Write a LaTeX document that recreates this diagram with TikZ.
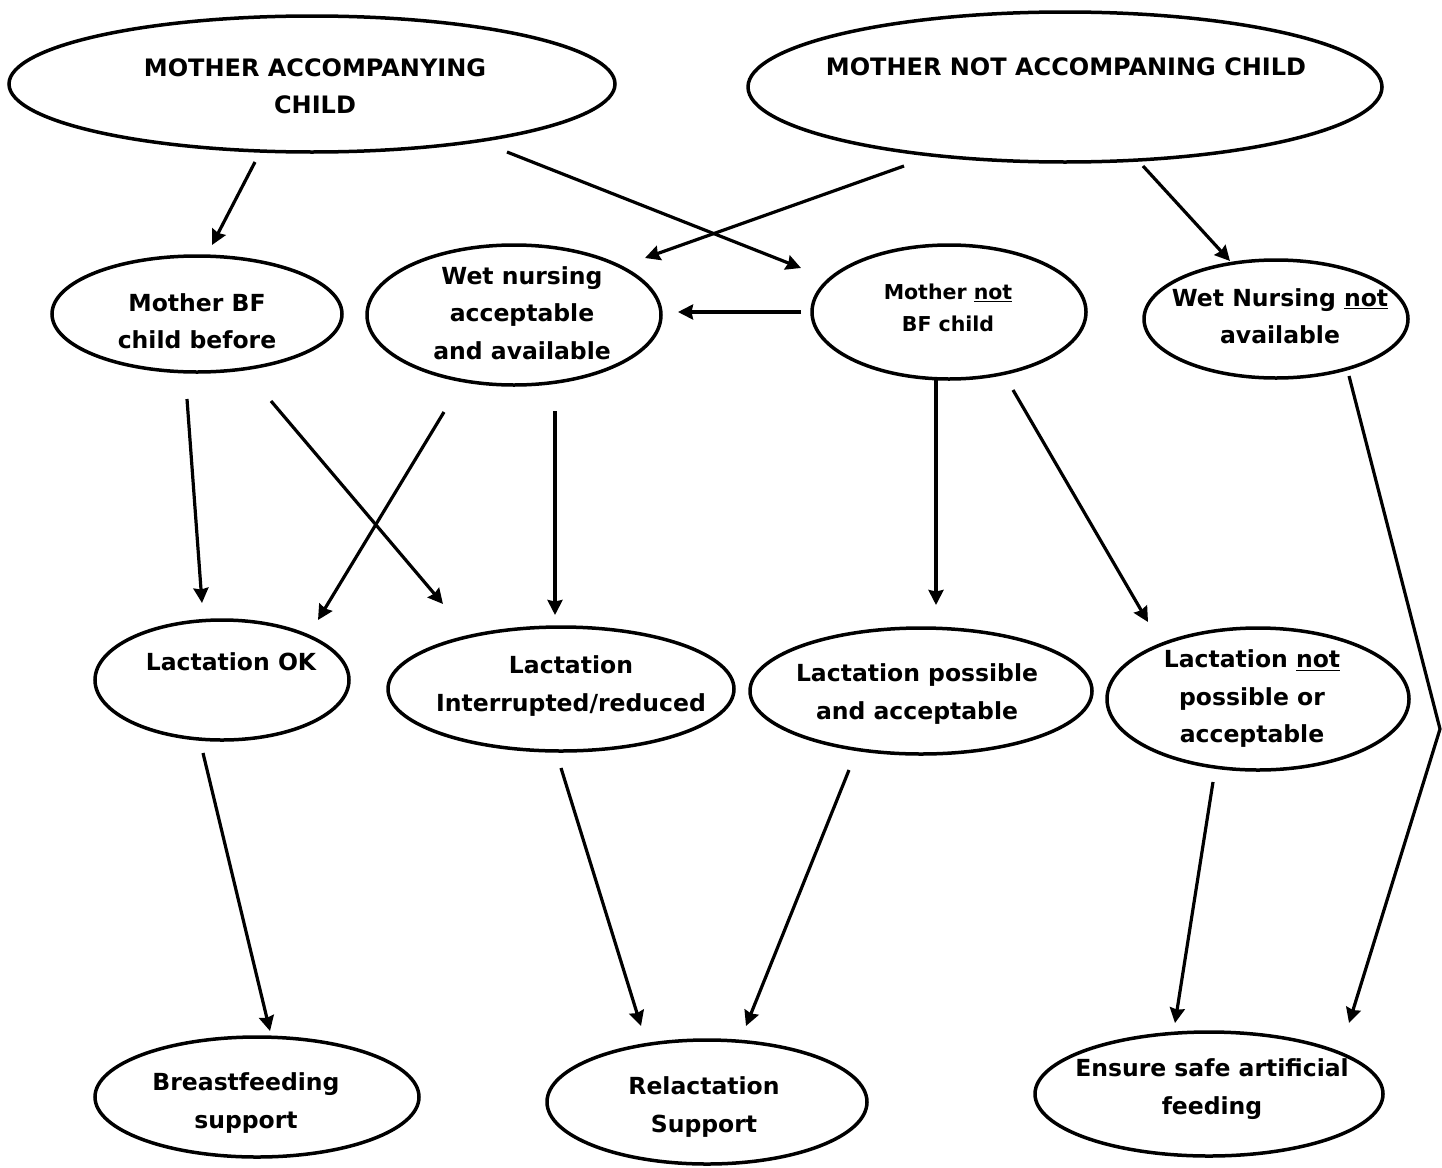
\documentclass[tikz,border=0pt]{standalone}
\usepackage{fontspec}
\setmainfont{DejaVu Sans}
\usetikzlibrary{arrows.meta,shapes.geometric}
\tikzset{
  oval/.style={draw, ellipse, line width=3.5pt, inner sep=0pt, outer sep=0pt},
  lbl/.style={align=center, inner sep=0pt, font=\bfseries\fontsize{23.5}{37.5}\selectfont},
  lblsmall/.style={align=center, inner sep=0pt, font=\bfseries\fontsize{20.5}{32}\selectfont},
  lblcaps/.style={align=center, inner sep=0pt, font=\bfseries\fontsize{24}{37}\selectfont},
  arr/.style={line width=3.2pt, -{Stealth[length=15pt,width=15pt,inset=1.5pt]}}
}
\begin{document}
\begin{tikzpicture}[x=1pt,y=-1pt]
\useasboundingbox (0,0) rectangle (1442,1167);

% ellipses
\node[oval, minimum width=606pt, minimum height=136pt] (e1) at (312,84) {};
\node[oval, minimum width=634pt, minimum height=150pt] (e2) at (1065,87) {};
\node[oval, minimum width=290pt, minimum height=116pt] (e3) at (197,314) {};
\node[oval, minimum width=294pt, minimum height=140pt] (e4) at (514,315) {};
\node[oval, minimum width=274pt, minimum height=134pt] (e5) at (949,312) {};
\node[oval, minimum width=264pt, minimum height=118pt] (e6) at (1276,319) {};
\node[oval, minimum width=254pt, minimum height=120pt] (e7) at (222,680) {};
\node[oval, minimum width=346pt, minimum height=124pt] (e8) at (561,689) {};
\node[oval, minimum width=342pt, minimum height=126pt] (e9) at (921,691) {};
\node[oval, minimum width=302pt, minimum height=142pt] (e10) at (1258,699) {};
\node[oval, minimum width=324pt, minimum height=120pt] (e11) at (257,1097) {};
\node[oval, minimum width=320pt, minimum height=124pt] (e12) at (707,1102) {};
\node[oval, minimum width=348pt, minimum height=124pt] (e13) at (1209,1094) {};

% labels
\node[lblcaps] (t1) at (315,86) {MOTHER ACCOMPANYING\\CHILD};
\node[lblcaps] (t2) at (1066,67) {MOTHER NOT ACCOMPANING CHILD};
\node[lbl] (t3) at (197,321) {Mother BF\\child before};
\node[lbl] (t4) at (522,313) {Wet nursing\\acceptable\\and available};
\node[lblsmall] (t5) at (948,308) {Mother \underline{not}\\BF child};
\node[lbl] (t6) at (1280,316) {Wet Nursing \underline{not}\\available};
\node[lbl] (t7) at (231,662) {Lactation OK};
\node[lbl] (t8) at (571,686) {Lactation\\Interrupted/reduced};
\node[lbl] (t9) at (917,694) {Lactation possible\\and acceptable};
\node[lbl] (t10) at (1252,699) {Lactation \underline{not}\\possible or\\acceptable};
\node[lbl] (t11) at (246,1103) {Breastfeeding\\support};
\node[lbl] (t12) at (704,1107) {Relactation\\Support};
\node[lbl] (t13) at (1212,1089) {Ensure safe artificial\\feeding};

% arrow end points
\coordinate (a1s) at (255,162);  \coordinate (a1e) at (212,245);
\coordinate (a2s) at (507,152);  \coordinate (a2e) at (801,268);
\coordinate (a3s) at (904,166);  \coordinate (a3e) at (645,258);
\coordinate (a4s) at (1143,166); \coordinate (a4e) at (1230,261);
\coordinate (a5s) at (801,312);  \coordinate (a5e) at (678,312);
\coordinate (a6s) at (187,399);  \coordinate (a6e) at (202,603);
\coordinate (a7s) at (271,401);  \coordinate (a7e) at (443,604);
\coordinate (a8s) at (444,412);  \coordinate (a8e) at (318,620);
\coordinate (a9s) at (555,411);  \coordinate (a9e) at (555,615);
\coordinate (a10s) at (936,378); \coordinate (a10e) at (936,605);
\coordinate (a11s) at (1013,390);\coordinate (a11e) at (1148,622);
\coordinate (a12s) at (203,753); \coordinate (a12e) at (270,1031);
\coordinate (a13s) at (561,768); \coordinate (a13e) at (641,1026);
\coordinate (a14s) at (849,770); \coordinate (a14e) at (746,1026);
\coordinate (a15s) at (1213,782);\coordinate (a15e) at (1175,1023);
\coordinate (a16s) at (1349,376);\coordinate (a16m) at (1440,729);
\coordinate (a16e) at (1349,1023);

\draw[arr] (a1s) -- (a1e);
\draw[arr] (a2s) -- (a2e);
\draw[arr] (a3s) -- (a3e);
\draw[arr] (a4s) -- (a4e);
\draw[arr] (a5s) -- (a5e);
\draw[arr] (a6s) -- (a6e);
\draw[arr] (a7s) -- (a7e);
\draw[arr] (a8s) -- (a8e);
\draw[arr] (a9s) -- (a9e);
\draw[arr] (a10s) -- (a10e);
\draw[arr] (a11s) -- (a11e);
\draw[arr] (a12s) -- (a12e);
\draw[arr] (a13s) -- (a13e);
\draw[arr] (a14s) -- (a14e);
\draw[arr] (a15s) -- (a15e);
\draw[arr, line join=miter] (a16s) -- (a16m) -- (a16e);
\end{tikzpicture}
\end{document}
